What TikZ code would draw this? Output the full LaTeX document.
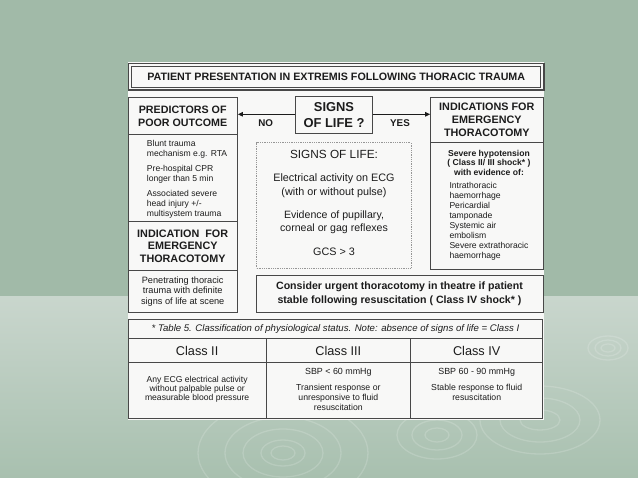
\documentclass[tikz,border=0pt]{standalone}
\usepackage{fontspec}
\setmainfont{Liberation Sans}
\usepackage{xcolor}
\definecolor{ColBgTop}{RGB}{161,186,168}
\definecolor{ColBgLow}{RGB}{201,214,205}
\definecolor{ColBgEnd}{RGB}{168,192,175}
\definecolor{ColPanel}{RGB}{248,248,247}
\definecolor{ColLine}{RGB}{72,72,72}
\definecolor{ColDot}{RGB}{150,150,150}
\definecolor{ColInk}{RGB}{28,28,28}
\usepackage{tikz}
\usetikzlibrary{arrows.meta}
\tikzstyle{Frame}=[draw=ColLine,line width=0.9pt,fill=ColPanel,inner sep=0pt]
\tikzstyle{Head}=[font=\fontsize{10.7}{12.4}\selectfont\bfseries,align=center,
text=ColInk]
\tikzstyle{Plain}=[font=\fontsize{8.5}{10}\selectfont,align=center,
inner sep=0pt,text=ColInk]
\tikzstyle{Listing}=[font=\fontsize{8.6}{10}\selectfont,align=left,
anchor=north west,inner sep=0pt,text=ColInk]
\tikzstyle{Arrow}=[draw=ColInk,line width=0.9pt,
-{Triangle[length=5pt,width=4.5pt]}]
\tikzstyle{Ripple}=[draw=white,opacity=.16,line width=1.3pt]

\begin{document}
\begin{tikzpicture}[x=1pt,y=-1pt]
        \useasboundingbox(0,0)rectangle(638,478);
        % background and ripples
        \fill[ColBgTop](0,0)rectangle(638,297);
        \shade[top color=ColBgLow,bottom color=ColBgEnd](0,297)rectangle(638,478);
        \foreach \r/\s in {7/4,13/8,20/12}
                \draw[Ripple](608,348)ellipse({\r} and {\s});
        \foreach \r/\s in {12/7,22/13,40/24,58/36,85/52}
                \draw[Ripple](283,453)ellipse({\r} and {\s});
        \foreach \r/\s in {12/7,25/15,40/24}
                \draw[Ripple](437,435)ellipse({\r} and {\s});
        \foreach \r/\s in {20/10,40/22,60/34}
                \draw[Ripple](540,420)ellipse({\r} and {\s});
        \fill[ColPanel](128,62)rectangle(544,420);
        % title
        \node[Frame,line width=1.6pt,minimum width=415.7pt,
                minimum height=26.7pt](title)at(336.2,76.7){};
        \node[draw=ColLine,line width=0.6pt,inner sep=0pt,minimum width=409pt,
                minimum height=20.5pt,Head](titletext)at(336.2,76.7)
                {PATIENT PRESENTATION IN EXTREMIS FOLLOWING THORACIC TRAUMA};
        % decision row
        \node[Frame,Head,minimum width=109.5pt,minimum height=37.3pt](pred)
                at(182.7,116.3){PREDICTORS OF\\POOR OUTCOME};
        \node[Frame,Head,font=\fontsize{12.9}{15.7}\selectfont\bfseries,
                minimum width=76.6pt,minimum height=37pt](signs)
                at(334,115.1){SIGNS\\OF LIFE ?};
        \node[Frame,Head,font=\fontsize{10.8}{13}\selectfont\bfseries,
                minimum width=112.3pt,minimum height=45pt](indic)
                at(486.8,120.2){INDICATIONS FOR\\EMERGENCY\\THORACOTOMY};
        \draw[Arrow](signs.west|-0,114.3)--(pred.east|-0,114.3);
        \draw[Arrow](signs.east|-0,114.3)--(indic.west|-0,114.3);
        \node[Head,font=\fontsize{9.8}{11}\selectfont\bfseries](no)
                at(265.7,123){NO};
        \node[Head,font=\fontsize{9.8}{11}\selectfont\bfseries](yes)
                at(400,123){YES};
        % left column
        \node[Frame,minimum width=109.5pt,minimum height=86.7pt](blunt)
                at(182.7,178.3){};
        \node[Listing](bluntT)at(146.7,139.8)
                {Blunt trauma\\mechanism e.g. RTA\\[5pt]Pre-hospital CPR\\
                longer than 5 min\\[5pt]Associated severe\\head injury +/-\\
                multisystem trauma};
        \node[Frame,Head,font=\fontsize{10.8}{12.3}\selectfont\bfseries,
                minimum width=109.5pt,minimum height=49pt](indleft)
                at(182.7,246.2){INDICATION\ \ FOR\\EMERGENCY\\THORACOTOMY};
        \node[Frame,Plain,font=\fontsize{9.2}{10.5}\selectfont,
                minimum width=109.5pt,minimum height=41.8pt](pen)
                at(182.7,291.6){Penetrating thoracic\\trauma with definite\\
                signs of life at scene};
        % centre
        \node[Frame,draw=ColDot,line width=0.8pt,densely dotted,
                minimum width=154.3pt,minimum height=125.6pt](sol)
                at(333.9,205.5){};
        \node[Plain,font=\fontsize{11.8}{13}\selectfont](solA)
                at(334,154){SIGNS OF LIFE:};
        \node[Plain,font=\fontsize{10.8}{14}\selectfont](solB)
                at(334,185.3){Electrical activity on ECG\\(with or without pulse)};
        \node[Plain,font=\fontsize{10.6}{12.8}\selectfont](solC)
                at(334,222){Evidence of pupillary,\\corneal or gag reflexes};
        \node[Plain,font=\fontsize{10.8}{12}\selectfont](solD)
                at(334,251.7){GCS > 3};
        % right column
        \node[Frame,minimum width=112.3pt,minimum height=126.6pt](hypo)
                at(486.8,206){};
        \node[Plain,font=\fontsize{8.6}{9.6}\selectfont\bfseries](hypoA)
                at(489,162.8){Severe hypotension\\( Class II/ III shock* )\\
                with evidence of:};
        \node[Listing](hypoB)
                at(449.3,182.3){Intrathoracic\\haemorrhage\\
                Pericardial\\tamponade\\Systemic air\\embolism\\
                Severe extrathoracic\\haemorrhage};
        % theatre
        \node[Frame,Head,font=\fontsize{10.6}{13.3}\selectfont\bfseries,
                minimum width=287pt,minimum height=37.3pt](theatre)
                at(399.5,293.7){Consider urgent thoracotomy in theatre if patient\\
                stable following resuscitation ( Class IV shock* )};
        % table 5
        \node[Frame,font=\fontsize{9.6}{11}\selectfont\itshape,text=ColInk,
                minimum width=414.4pt,minimum height=19pt](cap)
                at(335.5,328.8){* Table 5. Classification of physiological
                status. Note: absence of signs of life = Class I};
        \foreach \n/\cx/\w/\t in {c2/197.15/137.7/II,c3/338.35/144.7/III,
                c4/476.7/132/IV}{
                \node[Frame,font=\fontsize{12.7}{14}\selectfont,text=ColInk,
                        minimum width=\w pt,minimum height=24.4pt](\n h)
                        at(\cx,350.5){Class \t};
                \node[Frame,minimum width=\w pt,minimum height=55.6pt](\n b)
                        at(\cx,390.5){};
        }
        \node[Plain,font=\fontsize{8.6}{9.2}\selectfont](c2t)
                at(197.15,389.3){Any ECG electrical activity\\
                without palpable pulse or\\measurable blood pressure};
        \node[Plain,font=\fontsize{8.9}{9.2}\selectfont](c3a)
                at(338.35,372.7){SBP < 60 mmHg};
        \node[Plain,font=\fontsize{8.7}{9.8}\selectfont](c3t)
                at(338.35,397.5){Transient response or\\unresponsive to fluid\\
                resuscitation};
        \node[Plain,font=\fontsize{8.9}{9.2}\selectfont](c4a)
                at(476.7,372.7){SBP 60 - 90 mmHg};
        \node[Plain,font=\fontsize{8.7}{9.7}\selectfont](c4t)
                at(476.7,392.5){Stable response to fluid\\resuscitation};
\end{tikzpicture}
\end{document}
